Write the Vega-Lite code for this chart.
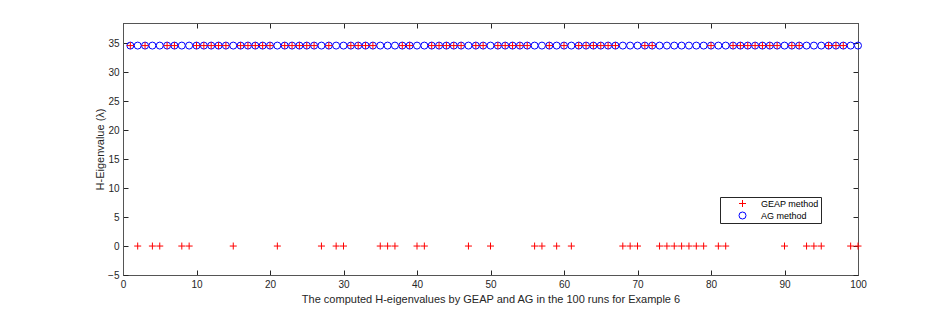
{
  "$schema": "https://vega.github.io/schema/vega-lite/v6.json",
  "autosize": {"type": "none"},
  "width": 735,
  "height": 252,
  "padding": {"left": 123, "top": 23, "right": 90, "bottom": 35},
  "background": "white",
  "config": {
    "font": "Liberation Sans",
    "view": {"stroke": "#555555", "strokeWidth": 1},
    "axis": {
      "grid": false,
      "domainColor": "#555555",
      "tickColor": "#262626",
      "labelColor": "#262626",
      "titleColor": "#262626",
      "labelFontSize": 10,
      "titleFontSize": 11,
      "titleFontWeight": "normal",
      "tickSize": -5,
      "labelPadding": 9,
      "labelFlush": false
    }
  },
  "data": {"values": [
    {"run":1,"method":"GEAP method","value":34.6},{"run":2,"method":"GEAP method","value":0},{"run":3,"method":"GEAP method","value":34.6},{"run":4,"method":"GEAP method","value":0},{"run":5,"method":"GEAP method","value":0},
    {"run":6,"method":"GEAP method","value":34.6},{"run":7,"method":"GEAP method","value":34.6},{"run":8,"method":"GEAP method","value":0},{"run":9,"method":"GEAP method","value":0},{"run":10,"method":"GEAP method","value":34.6},
    {"run":11,"method":"GEAP method","value":34.6},{"run":12,"method":"GEAP method","value":34.6},{"run":13,"method":"GEAP method","value":34.6},{"run":14,"method":"GEAP method","value":34.6},{"run":15,"method":"GEAP method","value":0},
    {"run":16,"method":"GEAP method","value":34.6},{"run":17,"method":"GEAP method","value":34.6},{"run":18,"method":"GEAP method","value":34.6},{"run":19,"method":"GEAP method","value":34.6},{"run":20,"method":"GEAP method","value":34.6},
    {"run":21,"method":"GEAP method","value":0},{"run":22,"method":"GEAP method","value":34.6},{"run":23,"method":"GEAP method","value":34.6},{"run":24,"method":"GEAP method","value":34.6},{"run":25,"method":"GEAP method","value":34.6},
    {"run":26,"method":"GEAP method","value":34.6},{"run":27,"method":"GEAP method","value":0},{"run":28,"method":"GEAP method","value":34.6},{"run":29,"method":"GEAP method","value":0},{"run":30,"method":"GEAP method","value":0},
    {"run":31,"method":"GEAP method","value":34.6},{"run":32,"method":"GEAP method","value":34.6},{"run":33,"method":"GEAP method","value":34.6},{"run":34,"method":"GEAP method","value":34.6},{"run":35,"method":"GEAP method","value":0},
    {"run":36,"method":"GEAP method","value":0},{"run":37,"method":"GEAP method","value":0},{"run":38,"method":"GEAP method","value":34.6},{"run":39,"method":"GEAP method","value":34.6},{"run":40,"method":"GEAP method","value":0},
    {"run":41,"method":"GEAP method","value":0},{"run":42,"method":"GEAP method","value":34.6},{"run":43,"method":"GEAP method","value":34.6},{"run":44,"method":"GEAP method","value":34.6},{"run":45,"method":"GEAP method","value":34.6},
    {"run":46,"method":"GEAP method","value":34.6},{"run":47,"method":"GEAP method","value":0},{"run":48,"method":"GEAP method","value":34.6},{"run":49,"method":"GEAP method","value":34.6},{"run":50,"method":"GEAP method","value":0},
    {"run":51,"method":"GEAP method","value":34.6},{"run":52,"method":"GEAP method","value":34.6},{"run":53,"method":"GEAP method","value":34.6},{"run":54,"method":"GEAP method","value":34.6},{"run":55,"method":"GEAP method","value":34.6},
    {"run":56,"method":"GEAP method","value":0},{"run":57,"method":"GEAP method","value":0},{"run":58,"method":"GEAP method","value":34.6},{"run":59,"method":"GEAP method","value":0},{"run":60,"method":"GEAP method","value":34.6},
    {"run":61,"method":"GEAP method","value":0},{"run":62,"method":"GEAP method","value":34.6},{"run":63,"method":"GEAP method","value":34.6},{"run":64,"method":"GEAP method","value":34.6},{"run":65,"method":"GEAP method","value":34.6},
    {"run":66,"method":"GEAP method","value":34.6},{"run":67,"method":"GEAP method","value":34.6},{"run":68,"method":"GEAP method","value":0},{"run":69,"method":"GEAP method","value":0},{"run":70,"method":"GEAP method","value":0},
    {"run":71,"method":"GEAP method","value":34.6},{"run":72,"method":"GEAP method","value":34.6},{"run":73,"method":"GEAP method","value":0},{"run":74,"method":"GEAP method","value":0},{"run":75,"method":"GEAP method","value":0},
    {"run":76,"method":"GEAP method","value":0},{"run":77,"method":"GEAP method","value":0},{"run":78,"method":"GEAP method","value":0},{"run":79,"method":"GEAP method","value":0},{"run":80,"method":"GEAP method","value":34.6},
    {"run":81,"method":"GEAP method","value":0},{"run":82,"method":"GEAP method","value":0},{"run":83,"method":"GEAP method","value":34.6},{"run":84,"method":"GEAP method","value":34.6},{"run":85,"method":"GEAP method","value":34.6},
    {"run":86,"method":"GEAP method","value":34.6},{"run":87,"method":"GEAP method","value":34.6},{"run":88,"method":"GEAP method","value":34.6},{"run":89,"method":"GEAP method","value":34.6},{"run":90,"method":"GEAP method","value":0},
    {"run":91,"method":"GEAP method","value":34.6},{"run":92,"method":"GEAP method","value":34.6},{"run":93,"method":"GEAP method","value":0},{"run":94,"method":"GEAP method","value":0},{"run":95,"method":"GEAP method","value":0},
    {"run":96,"method":"GEAP method","value":34.6},{"run":97,"method":"GEAP method","value":34.6},{"run":98,"method":"GEAP method","value":34.6},{"run":99,"method":"GEAP method","value":0},{"run":100,"method":"GEAP method","value":0},
    {"run":1,"method":"AG method","value":34.6},{"run":2,"method":"AG method","value":34.6},{"run":3,"method":"AG method","value":34.6},{"run":4,"method":"AG method","value":34.6},{"run":5,"method":"AG method","value":34.6},
    {"run":6,"method":"AG method","value":34.6},{"run":7,"method":"AG method","value":34.6},{"run":8,"method":"AG method","value":34.6},{"run":9,"method":"AG method","value":34.6},{"run":10,"method":"AG method","value":34.6},
    {"run":11,"method":"AG method","value":34.6},{"run":12,"method":"AG method","value":34.6},{"run":13,"method":"AG method","value":34.6},{"run":14,"method":"AG method","value":34.6},{"run":15,"method":"AG method","value":34.6},
    {"run":16,"method":"AG method","value":34.6},{"run":17,"method":"AG method","value":34.6},{"run":18,"method":"AG method","value":34.6},{"run":19,"method":"AG method","value":34.6},{"run":20,"method":"AG method","value":34.6},
    {"run":21,"method":"AG method","value":34.6},{"run":22,"method":"AG method","value":34.6},{"run":23,"method":"AG method","value":34.6},{"run":24,"method":"AG method","value":34.6},{"run":25,"method":"AG method","value":34.6},
    {"run":26,"method":"AG method","value":34.6},{"run":27,"method":"AG method","value":34.6},{"run":28,"method":"AG method","value":34.6},{"run":29,"method":"AG method","value":34.6},{"run":30,"method":"AG method","value":34.6},
    {"run":31,"method":"AG method","value":34.6},{"run":32,"method":"AG method","value":34.6},{"run":33,"method":"AG method","value":34.6},{"run":34,"method":"AG method","value":34.6},{"run":35,"method":"AG method","value":34.6},
    {"run":36,"method":"AG method","value":34.6},{"run":37,"method":"AG method","value":34.6},{"run":38,"method":"AG method","value":34.6},{"run":39,"method":"AG method","value":34.6},{"run":40,"method":"AG method","value":34.6},
    {"run":41,"method":"AG method","value":34.6},{"run":42,"method":"AG method","value":34.6},{"run":43,"method":"AG method","value":34.6},{"run":44,"method":"AG method","value":34.6},{"run":45,"method":"AG method","value":34.6},
    {"run":46,"method":"AG method","value":34.6},{"run":47,"method":"AG method","value":34.6},{"run":48,"method":"AG method","value":34.6},{"run":49,"method":"AG method","value":34.6},{"run":50,"method":"AG method","value":34.6},
    {"run":51,"method":"AG method","value":34.6},{"run":52,"method":"AG method","value":34.6},{"run":53,"method":"AG method","value":34.6},{"run":54,"method":"AG method","value":34.6},{"run":55,"method":"AG method","value":34.6},
    {"run":56,"method":"AG method","value":34.6},{"run":57,"method":"AG method","value":34.6},{"run":58,"method":"AG method","value":34.6},{"run":59,"method":"AG method","value":34.6},{"run":60,"method":"AG method","value":34.6},
    {"run":61,"method":"AG method","value":34.6},{"run":62,"method":"AG method","value":34.6},{"run":63,"method":"AG method","value":34.6},{"run":64,"method":"AG method","value":34.6},{"run":65,"method":"AG method","value":34.6},
    {"run":66,"method":"AG method","value":34.6},{"run":67,"method":"AG method","value":34.6},{"run":68,"method":"AG method","value":34.6},{"run":69,"method":"AG method","value":34.6},{"run":70,"method":"AG method","value":34.6},
    {"run":71,"method":"AG method","value":34.6},{"run":72,"method":"AG method","value":34.6},{"run":73,"method":"AG method","value":34.6},{"run":74,"method":"AG method","value":34.6},{"run":75,"method":"AG method","value":34.6},
    {"run":76,"method":"AG method","value":34.6},{"run":77,"method":"AG method","value":34.6},{"run":78,"method":"AG method","value":34.6},{"run":79,"method":"AG method","value":34.6},{"run":80,"method":"AG method","value":34.6},
    {"run":81,"method":"AG method","value":34.6},{"run":82,"method":"AG method","value":34.6},{"run":83,"method":"AG method","value":34.6},{"run":84,"method":"AG method","value":34.6},{"run":85,"method":"AG method","value":34.6},
    {"run":86,"method":"AG method","value":34.6},{"run":87,"method":"AG method","value":34.6},{"run":88,"method":"AG method","value":34.6},{"run":89,"method":"AG method","value":34.6},{"run":90,"method":"AG method","value":34.6},
    {"run":91,"method":"AG method","value":34.6},{"run":92,"method":"AG method","value":34.6},{"run":93,"method":"AG method","value":34.6},{"run":94,"method":"AG method","value":34.6},{"run":95,"method":"AG method","value":34.6},
    {"run":96,"method":"AG method","value":34.6},{"run":97,"method":"AG method","value":34.6},{"run":98,"method":"AG method","value":34.6},{"run":99,"method":"AG method","value":34.6},{"run":100,"method":"AG method","value":34.6}
  ]},
  "layer": [
    {
      "mark": {"type": "point", "filled": false, "strokeWidth": 1, "size": 49, "opacity": 1},
      "encoding": {
        "x": {"field": "run", "type": "quantitative",
              "scale": {"domain": [0, 100], "nice": false, "zero": false},
              "axis": {"orient": "bottom", "values": [0,10,20,30,40,50,60,70,80,90,100],
                       "title": "The computed H-eigenvalues by GEAP and AG in the 100 runs for Example 6",
                       "titlePadding": 4}},
        "y": {"field": "value", "type": "quantitative",
              "scale": {"domain": [-5, 38.5], "nice": false, "zero": false},
              "axis": {"orient": "left", "values": [-5,0,5,10,15,20,25,30,35],
                       "title": "H-Eigenvalue (λ)", "titlePadding": 2}},
        "shape": {"field": "method", "type": "nominal",
                  "scale": {"domain": ["GEAP method", "AG method"], "range": ["M-1,0H1M0,-1V1", "circle"]},
                  "legend": {"title": null, "orient": "none", "legendX": 597, "legendY": 174,
                             "strokeColor": "#262626", "fillColor": "white", "padding": 2,
                             "symbolOffset": 16, "labelOffset": 14, "labelFontSize": 9,
                             "labelColor": "#000000", "rowPadding": 1, "symbolStrokeWidth": 1,
                             "symbolSize": 49, "symbolFillColor": "transparent"}},
        "stroke": {"field": "method", "type": "nominal",
                   "scale": {"domain": ["GEAP method", "AG method"], "range": ["#ff0000", "#0000ff"]},
                   "legend": null},
        "order": {"field": "method", "type": "nominal", "sort": "ascending"}
      }
    },
    {
      "mark": {"type": "point", "opacity": 0},
      "encoding": {
        "x": {"field": "run", "type": "quantitative",
              "scale": {"domain": [0, 100], "nice": false, "zero": false},
              "axis": {"orient": "top", "values": [0,10,20,30,40,50,60,70,80,90,100], "labels": false, "title": null}},
        "y": {"field": "value", "type": "quantitative",
              "scale": {"domain": [-5, 38.5], "nice": false, "zero": false},
              "axis": {"orient": "right", "values": [-5,0,5,10,15,20,25,30,35], "labels": false, "title": null}}
      }
    }
  ],
  "resolve": {"axis": {"x": "independent", "y": "independent"}}
}
